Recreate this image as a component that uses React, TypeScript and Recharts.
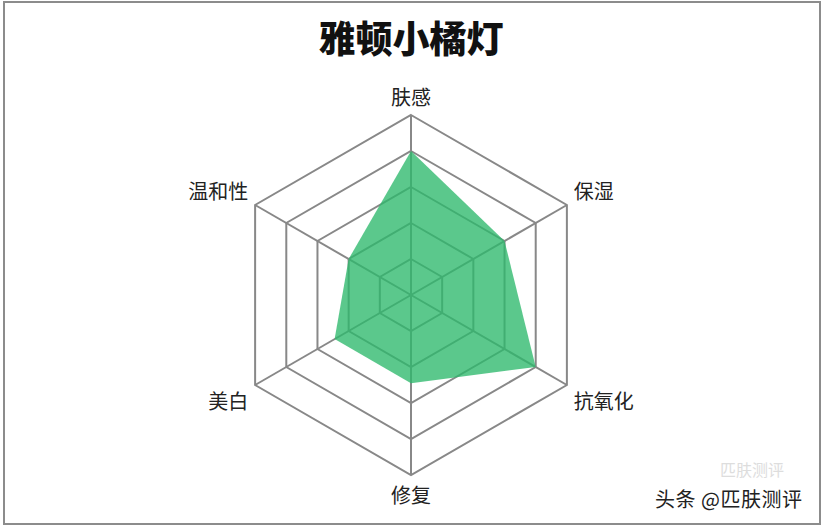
import { PolarAngleAxis, PolarGrid, PolarRadiusAxis, Radar, RadarChart } from "recharts";

const axes = ["肤感", "保湿", "抗氧化", "修复", "美白", "温和性"];
const scores = [4, 3, 4, 2.45, 2.45, 2];

const data = axes.map((name, i) => ({ name, score: scores[i] }));

const CX = 411;
const CY = 295;

const AxisTick = (props: any) => {
  const { x, y, payload, textAnchor } = props;
  const dy = y < CY - 2 ? -11 : y > CY + 2 ? 11 : 0;
  return (
    <text
      x={x}
      y={y + dy}
      textAnchor={textAnchor}
      dominantBaseline="central"
      fontSize={20}
      fill="#222"
      fontFamily='"Noto Sans CJK SC", sans-serif'
    >
      {payload.value}
    </text>
  );
};

export default function App() {
  return (
    <div
      style={{
        position: "absolute",
        left: 0,
        top: 0,
        width: 822,
        height: 526,
        background: "#fff",
        overflow: "hidden",
      }}
    >
      <div
        style={{
          position: "absolute",
          left: 3,
          top: 1,
          width: 814,
          height: 520,
          border: "2px solid #8c8c8c",
        }}
      />
      <div
        style={{
          position: "absolute",
          left: 0,
          top: 14,
          width: 822,
          textAlign: "center",
          fontSize: 37,
          fontWeight: 900,
          lineHeight: "46px",
          color: "#111",
          fontFamily: '"Noto Sans CJK SC", sans-serif',
        }}
      >
        雅顿小橘灯
      </div>
      <RadarChart
        width={822}
        height={526}
        cx={CX}
        cy={CY}
        outerRadius={180}
        data={data}
        margin={{ top: 0, right: 0, bottom: 0, left: 0 }}
        style={{ position: "absolute", left: 0, top: 0 }}
      >
        <PolarGrid gridType="polygon" stroke="#888" strokeWidth={2} />
        <PolarAngleAxis dataKey="name" tick={<AxisTick />} tickLine={false} axisLine={false} />
        <PolarRadiusAxis domain={[0, 5]} tickCount={6} tick={false} axisLine={false} />
        <Radar
          dataKey="score"
          stroke="none"
          fill="#2db86b"
          fillOpacity={0.78}
          isAnimationActive={false}
        />
      </RadarChart>
      <div
        style={{
          position: "absolute",
          left: 720,
          top: 460,
          fontSize: 16,
          lineHeight: "18px",
          color: "#ddd",
          fontFamily: '"Noto Sans CJK SC", sans-serif',
        }}
      >
        匹肤测评
      </div>
      <div
        style={{
          position: "absolute",
          left: 655,
          top: 487,
          fontSize: 20,
          lineHeight: "24px",
          letterSpacing: 0.5,
          color: "#222",
          textShadow: "1px 1px 1px #fff, -1px -1px 1px #fff",
          fontFamily: '"Noto Sans CJK SC", sans-serif',
        }}
      >
        头条 @匹肤测评
      </div>
    </div>
  );
}
